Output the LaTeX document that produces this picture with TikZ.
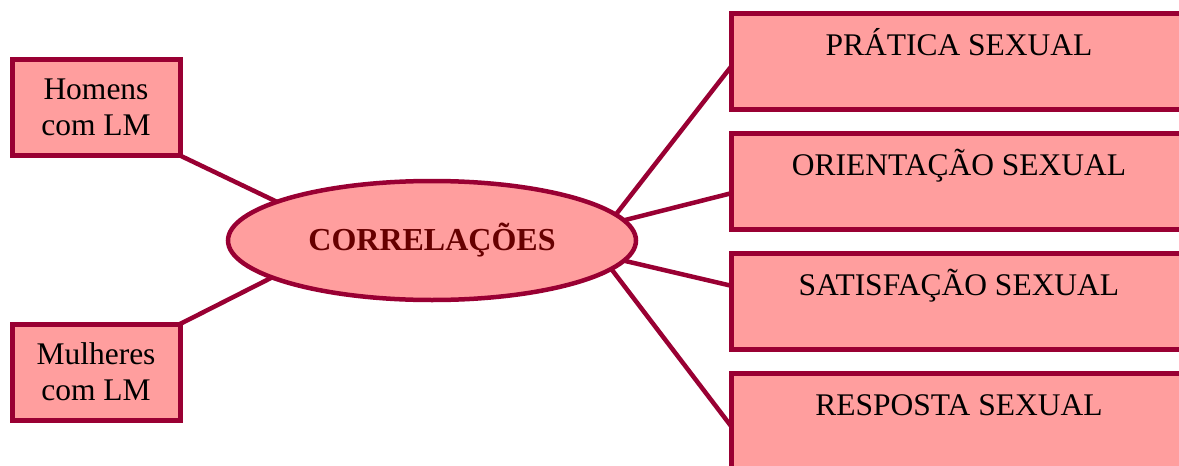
\documentclass[tikz,border=0pt]{standalone}
\usepackage{fontspec}
\setmainfont{Liberation Serif}
\usetikzlibrary{shapes.geometric}
\definecolor{boxfill}{HTML}{FF9E9E}
\definecolor{boxline}{HTML}{990033}
\definecolor{hubtext}{HTML}{660000}
\begin{document}
\begin{tikzpicture}[x=1pt,y=-1pt,
  base/.style={draw=boxline, fill=boxfill, line width=5pt, outer sep=0pt,
    font=\fontsize{31.5}{36}\selectfont},
  groupbox/.style={base, rectangle, minimum width=168pt, minimum height=96pt,
    inner sep=0pt, align=center},
  topicbox/.style={base, rectangle, minimum width=456pt, inner xsep=0pt,
    inner ysep=0pt, text height=42pt, text depth=54pt},
  hub/.style={base, ellipse, line width=4.5pt, minimum width=408pt,
    minimum height=119pt, inner sep=0pt, text=hubtext,
    font=\fontsize{32}{36}\selectfont\bfseries},
  link/.style={draw=boxline, line width=4.5pt}]
\useasboundingbox (0,0) rectangle (1179,466);
\clip (0,0) rectangle (1179,466);

% central ellipse
\node[hub] (hub) at (432,240.5) {CORRELAÇÕES};

% groups on the left
\node[groupbox] (men)   at (96,107.5) {Homens\\com LM};
\node[groupbox] (women) at (96,372)   {Mulheres\\com LM};

% topics on the right
\node[topicbox] (t1) at (959,61)  {PRÁTICA SEXUAL};
\node[topicbox] (t2) at (959,181) {ORIENTAÇÃO SEXUAL};
\node[topicbox] (t3) at (959,301) {SATISFAÇÃO SEXUAL};
\node[topicbox] (t4) at (959,421) {RESPOSTA SEXUAL};

% connectors
\draw[link] (men.south east)   -- (hub.166.8);
\draw[link] (women.north east) -- (hub.193.2);
\draw[link] (hub.8.8)  -- ([yshift=-5.7pt]t1.west);
\draw[link] (hub.6.2)  -- ([yshift=-12.3pt]t2.west);
\draw[link] (hub.-6.3) -- ([yshift=15.3pt]t3.west);
\draw[link] (hub.-9)   -- ([yshift=-5pt]t4.west);
\end{tikzpicture}
\end{document}
